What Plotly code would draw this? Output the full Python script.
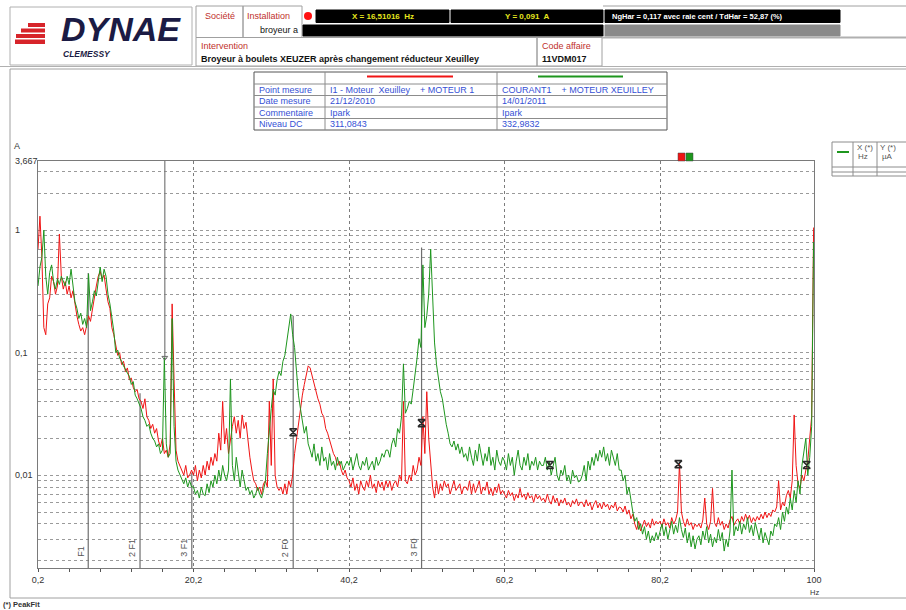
import numpy as np
import plotly.graph_objects as go

# ---------------------------------------------------------------- data
FREQ_START_HZ = 0.2
FREQ_STEP_HZ = 0.25

# Spectrum amplitude, mA, one value per 0.25 Hz bin (0.2 Hz .. 99.95 Hz)
red_mA = [
    700, 1300, 600, 160, 140, 250, 280, 420, 380, 300, 350, 930, 420, 330, 380, 300, 350, 280, 320, 240,
    200, 170, 150, 160, 140, 165, 200, 180, 230, 280, 350, 420, 460, 400, 430, 330, 260, 230, 160, 140,
    110, 95, 100, 80, 85, 70, 75, 60, 62, 52, 48, 50, 42, 40, 35, 42, 30, 28, 24, 26,
    22, 24, 19, 17, 20, 15, 16, 14, 18, 250, 60, 16, 13, 12, 11, 10, 12, 9.5, 10, 11,
    10, 12, 9, 11, 9.5, 12, 10, 13, 11, 14, 12, 15, 13, 22, 16, 40, 18, 24, 15, 20,
    25, 30, 22, 28, 20, 31, 24, 27, 18, 14, 11, 9, 8.5, 7.5, 8, 7, 8.5, 9, 8, 40,
    12, 61, 10, 8, 7.5, 8, 7, 8.5, 7, 9, 8, 10, 15, 20, 28, 35, 45, 55, 68, 78,
    75, 65, 55, 50, 42, 38, 32, 30, 24, 22, 19, 17, 15, 14, 12, 13, 11, 10, 11, 9.5,
    9, 8, 9.5, 7.5, 8.5, 7, 9, 8, 7.5, 9, 8, 10, 7.8, 8.5, 7.2, 9, 8, 8.8, 7.5, 9,
    8, 9, 7.5, 8.5, 9, 8, 10, 9, 40, 9, 8.5, 10, 9, 12, 10, 11, 14, 12, 30, 15,
    48, 20, 12, 8, 6.5, 9, 7, 8.5, 7.5, 9, 8, 8.5, 7, 8, 9, 7.5, 8, 8.5, 7, 8,
    8, 7.5, 9, 7, 8.5, 7.2, 8, 9, 7, 8, 7.5, 8.8, 7, 7.8, 6.8, 8, 7.2, 8.5, 7, 7.5,
    7, 6.5, 7.5, 6.8, 7.2, 6.2, 7, 6.5, 7.8, 6.6, 7, 6.3, 7.2, 6.5, 6.8, 6, 7, 6.4, 6.8, 6.2,
    6.5, 6, 7, 6.2, 5.8, 6.8, 6, 6.5, 5.6, 6.3, 5.9, 6.5, 5.7, 6, 5.5, 6.2, 5.8, 6.4, 5.6, 6,
    6, 5.5, 6.3, 5.6, 6, 5.2, 5.8, 6.2, 5.4, 5.9, 5.3, 6, 5.5, 5.8, 5.2, 5.7, 5.4, 6, 5.1, 5.5,
    5.4, 5, 5.6, 4.8, 5.2, 4.4, 4.8, 4, 3.6, 4.2, 3.5, 3.9, 4.3, 3.8, 4.1, 3.7, 4.4, 3.9, 4.2, 4,
    4.2, 3.8, 4.4, 3.9, 4.1, 3.7, 4.5, 4, 4.3, 5, 12.5, 5, 4.2, 3.8, 4.4, 3.9, 4.1, 3.6, 4, 3.8,
    4, 3.7, 4.3, 6.5, 4, 3.6, 4.2, 7.8, 4.1, 3.8, 4.5, 3.9, 4.2, 3.6, 4, 3.7, 4.3, 4.6, 3.9, 4.2,
    4.4, 4, 4.6, 4.2, 4.8, 4.3, 4.7, 4.1, 4.5, 4.2, 4.6, 4.3, 4.8, 4.4, 5, 4.5, 4.9, 4.6, 5.2, 5,
    5.5, 9, 5.2, 6, 5.6, 6.8, 7.5, 6.5, 9, 31, 12, 8.5, 7.8, 10, 9, 11, 13, 20, 30, 1050,
]
green_mA = [
    350, 500, 600, 1000, 420, 300, 450, 520, 380, 330, 400, 360, 420, 380, 350, 420, 360, 480, 350, 260,
    230, 190, 210, 170, 190, 160, 440, 220, 260, 320, 290, 400, 500, 380, 480, 420, 300, 250, 200, 150,
    100, 105, 90, 85, 78, 72, 68, 64, 55, 58, 45, 42, 38, 35, 30, 28, 25, 26, 22, 20,
    19, 17, 18, 15, 16, 91, 18, 14, 15, 190, 25, 13, 11, 10, 9, 8.5, 9.5, 8, 9, 8,
    8, 7, 7.5, 6.5, 8, 7, 6.8, 8.5, 7.2, 9, 8, 10, 8.5, 11, 9, 12, 10, 9, 11, 61,
    12, 9, 14, 10, 8, 11, 9, 7.5, 8, 7, 7.5, 6.5, 7, 8, 7, 6.5, 7.5, 9, 15, 25,
    35, 50, 45, 60, 70, 65, 85, 95, 120, 150, 207, 140, 110, 70, 45, 35, 28, 22, 25, 18,
    16, 14, 18, 13, 15, 12, 17, 13, 14, 11, 15, 12, 13, 11, 14, 12, 13, 11, 12, 13,
    12, 14, 11, 13, 15, 12, 11, 13, 12, 14, 11, 12, 13, 11, 14, 12, 13, 15, 14, 16,
    16, 14, 18, 20, 17, 24, 22, 30, 81, 32, 35, 40, 38, 50, 65, 90, 130, 110, 520, 160,
    200, 300, 700, 250, 120, 80, 60, 48, 42, 32, 26, 22, 18, 17, 19, 16, 18, 15, 17, 14,
    15, 13, 17, 14, 12, 16, 13, 18, 14, 12, 15, 13, 17, 12, 14, 11, 16, 13, 12, 14,
    13, 11, 15, 12, 14, 10, 13, 16, 12, 11, 14, 12, 15, 11, 13, 12, 14, 11, 13, 12,
    12, 14, 11, 13, 10, 12, 14, 10, 9, 11, 10, 12, 9, 10, 8.5, 11, 9.5, 10, 8.8, 9,
    10, 12, 9, 13, 11, 14, 12, 15, 13, 16, 14, 17, 13, 15, 12, 16, 14, 12, 15, 11,
    11, 9, 10, 7, 8, 6, 5, 4.2, 4.5, 3.6, 4, 3.3, 3.8, 3, 3.5, 2.8, 3.2, 2.9, 3.4, 3,
    3.5, 4, 3.2, 3.8, 3, 3.6, 4.2, 3.3, 3.9, 3.4, 4.5, 3.6, 3.1, 3.7, 2.8, 3.4, 2.6, 3.2, 2.5, 3,
    3.2, 2.7, 3.5, 3, 3.8, 2.8, 3.3, 2.6, 3.1, 2.8, 3.6, 2.9, 3.4, 2.4, 3, 2.6, 3.5, 11, 3.2, 3.8,
    3.5, 4.2, 3.3, 4, 3.6, 4.5, 3.4, 3.9, 3.2, 4.1, 3.5, 3, 3.7, 2.8, 3.4, 3, 2.7, 3.5, 3.2, 4,
    3.8, 4.5, 3.6, 5, 4.2, 5.5, 4.8, 6.5, 5.2, 7.5, 6, 9, 7, 12, 16, 20, 10, 14, 25, 800,
]

# cursor
cursor_x_hz = 16.51016
cursor_y_A = 0.091

# kinematic frequency markers
harm_names = ["F1", "2 F1", "3 F1", "2 F0", "3 F0"]
harm_freqs = [6.66, 13.32, 19.98, 33.02, 49.53]
harm_tops_A = [0.446, 0.0467, 0.0105, 0.20, 0.72]

# PeakFit points
peak_freqs = [33.02, 49.53, 66.04, 82.55, 99.06]
peak_vals_A = [0.0224, 0.0266, 0.0121, 0.0123, 0.0121]

x_tick_vals = [0.2, 20.2, 40.2, 60.2, 80.2, 100]
x_tick_text = ["0,2", "20,2", "40,2", "60,2", "80,2", "100"]
x_minor_vals = [4.2 + 4 * k for k in range(24)]
y_label_vals = [3.667, 1, 0.1, 0.01]
y_label_text = ["3,667", "1", "0,1", "0,01"]
y_grid_vals = [m * 10.0 ** e for e in range(-3, 1) for m in range(1, 10) if 0.00176 < m * 10.0 ** e < 3.6]

# ---------------------------------------------------------------- page geometry
W, H = 906, 610
PL, PR, PT, PB = 38, 814, 161, 568
Y_RANGE = [-2.758, np.log10(3.667)]
FONT = "Liberation Sans"
RED = "#f01414"
GREEN = "#1e961e"
MARK = "#2a2a2a"


def px(x):
    return (x - PL) / (PR - PL)


def py(y):
    return (PB - y) / (PB - PT)


shapes = []
annotations = []


def rect(x0, y0, x1, y1, fill="rgba(0,0,0,0)", line="#a0a0a0", width=1):
    shapes.append(dict(type="rect", xref="paper", yref="paper",
                       x0=px(x0), x1=px(x1), y0=py(y0), y1=py(y1),
                       fillcolor=fill, line=dict(color=line, width=width), layer="above"))


def hline(x0, x1, y, color="#a0a0a0", width=1):
    shapes.append(dict(type="line", xref="paper", yref="paper",
                       x0=px(x0), x1=px(x1), y0=py(y), y1=py(y),
                       line=dict(color=color, width=width)))


def vline(x, y0, y1, color="#a0a0a0", width=1):
    shapes.append(dict(type="line", xref="paper", yref="paper",
                       x0=px(x), x1=px(x), y0=py(y0), y1=py(y1),
                       line=dict(color=color, width=width)))


def text(x, y, s, size=9, color="#222222", xanchor="left", yanchor="middle", family=FONT, **kw):
    annotations.append(dict(x=px(x), y=py(y), xref="paper", yref="paper", text=s,
                            showarrow=False, xanchor=xanchor, yanchor=yanchor,
                            borderpad=0, font=dict(size=size, color=color, family=family), **kw))


# ---------------------------------------------------------------- header: logo
rect(10, 7, 192, 65, line="#b0b0b0")
for (y0, y1, x0) in [(23, 27, 28), (28.5, 32.5, 21), (34, 38, 16), (39.5, 44, 15)]:
    rect(x0, y0, 45, y1, fill="#d7242a", line="#d7242a", width=0)
text(60, 29, "<b><i>DYNAE</i></b>", size=34, color="#1b1b44")
text(62, 54, "<b><i>CLEMESSY</i></b>", size=8.5, color="#1b1b44")

# ---------------------------------------------------------------- header: identification cells
CELL_RED = "#c0302c"
rect(196, 6, 243, 37.5)
rect(243, 6, 302, 37.5)
text(220, 16, "Société", size=9, color=CELL_RED, xanchor="center")
text(246, 16, "Installation", size=9, color=CELL_RED)
text(299, 30, "broyeur a", size=9, color="#111111", xanchor="right")
shapes.append(dict(type="circle", xref="paper", yref="paper", x0=px(304), x1=px(312),
                   y0=py(12), y1=py(20), fillcolor="#ff1010", line=dict(color="#ff1010", width=0)))
rect(316, 10, 449, 22.5, fill="#000000", line="#000000")
rect(451, 10, 603, 22.5, fill="#000000", line="#000000")
rect(605, 10, 840, 22.5, fill="#000000", line="#000000")
rect(303, 25, 603, 36, fill="#000000", line="#000000")
rect(605, 25, 840, 36, fill="#8a8a8a", line="#8a8a8a")
text(383, 16.5, "<b>X = 16,51016  Hz</b>", size=8, color="#e6e61e", xanchor="center")
text(527, 16.5, "<b>Y = 0,091  A</b>", size=8, color="#e6e61e", xanchor="center")
text(611, 16.5, "<b>NgHar = 0,117 avec raie cent / TdHar = 52,87 (%)</b>", size=7.5, color="#ffffff")
hline(603, 906, 6)
rect(196, 37.5, 537, 66)
rect(537, 37.5, 602, 66)
text(200, 46, "Intervention", size=9, color=CELL_RED)
text(200, 59, "<b>Broyeur à boulets XEUZER après changement réducteur Xeuilley</b>", size=9, color="#111111")
text(541, 46, "Code affaire", size=9, color=CELL_RED)
text(541, 59, "<b>11VDM017</b>", size=9, color="#111111")
hline(602, 906, 37.5, color="#b0b0b0", width=2)

# page frame
hline(0, 906, 66.5, color="#b0b0b0", width=1)
hline(10, 906, 69, color="#a0a0a0", width=1)
vline(10, 69, 598, color="#a0a0a0")
hline(10, 906, 598, color="#a0a0a0")
text(2, 604, "<b>(*) PeakFit</b>", size=7.5, color="#333333")

# ---------------------------------------------------------------- measurement table
TBL_BLUE = "#3550d5"
row_y = [72, 84, 95.5, 107, 118.5, 130]
col_x = [254, 325, 497, 667]
rect(col_x[0], row_y[0], col_x[-1], row_y[-1], line="#555555")
for yy in row_y[1:-1]:
    hline(col_x[0], col_x[-1], yy, color="#8c8c8c")
for xx in col_x[1:-1]:
    vline(xx, row_y[0], row_y[-1], color="#8c8c8c")
hline(367, 453, 76.5, color=RED, width=2)
hline(538, 623, 76.5, color=GREEN, width=2)
table_rows = [
    ("Point mesure", "I1 - Moteur  Xeuilley    + MOTEUR 1", "COURANT1    + MOTEUR XEUILLEY"),
    ("Date mesure", "21/12/2010", "14/01/2011"),
    ("Commentaire", "Ipark", "Ipark"),
    ("Niveau DC", "311,0843", "332,9832"),
]
for k, row in enumerate(table_rows):
    yc = (row_y[k + 1] + row_y[k + 2]) / 2
    for j, s in enumerate(row):
        text(col_x[j] + 4, yc, s, size=9, color=TBL_BLUE)

# ---------------------------------------------------------------- legend box (right)
rect(832, 142, 910, 176, line="#8c8c8c")
vline(853, 142, 176, color="#8c8c8c")
vline(877, 142, 176, color="#8c8c8c")
hline(832, 910, 167, color="#8c8c8c")
hline(832, 910, 172, color="#8c8c8c")
hline(837, 849, 152, color=GREEN, width=2)
text(856, 148, "X (*)", size=8, color="#555555")
text(879, 148, "Y (*)", size=8, color="#555555")
text(857, 157, "Hz", size=8, color="#555555")
text(881, 157, "µA", size=8, color="#555555")

# series tags above the plot
rect(678, 153, 685, 161, fill=RED, line="#444444", width=0.5)
rect(686, 153, 693, 161, fill=GREEN, line="#444444", width=0.5)

# ---------------------------------------------------------------- plot
freqs = FREQ_START_HZ + FREQ_STEP_HZ * np.arange(len(red_mA))
red_A = np.array(red_mA) / 1000.0
green_A = np.array(green_mA) / 1000.0
y_bottom = 10 ** Y_RANGE[0]

fig = go.Figure()

# harmonic marker lines
for f, top in zip(harm_freqs, harm_tops_A):
    fig.add_trace(go.Scatter(x=[f, f], y=[y_bottom, top], mode="lines",
                             line=dict(color="#6e6e6e", width=1.2), hoverinfo="skip"))

fig.add_trace(go.Scatter(x=freqs, y=red_A, mode="lines", name="I1 - Moteur Xeuilley",
                         line=dict(color=RED, width=1)))
fig.add_trace(go.Scatter(x=freqs, y=green_A, mode="lines", name="COURANT1",
                         line=dict(color=GREEN, width=1)))

# cursor
fig.add_trace(go.Scatter(x=[cursor_x_hz, cursor_x_hz], y=[3.667, cursor_y_A], mode="lines",
                         line=dict(color="#7a7a7a", width=1.2), hoverinfo="skip"))
fig.add_trace(go.Scatter(x=[cursor_x_hz], y=[cursor_y_A], mode="markers",
                         marker=dict(symbol="triangle-down-open", size=5, color="#6a6a6a",
                                     line=dict(color="#6a6a6a", width=1)), hoverinfo="skip"))

# PeakFit markers
fig.add_trace(go.Scatter(x=peak_freqs, y=peak_vals_A, mode="markers",
                         marker=dict(symbol="hourglass-open", size=7, color=MARK,
                                     line=dict(color=MARK, width=1.6))))

# harmonic labels
for name, f in zip(harm_names, harm_freqs):
    annotations.append(dict(x=f, y=py(559), xref="x", yref="paper", text=name, textangle=-90,
                            showarrow=False, xanchor="right", yanchor="bottom", xshift=-1,
                            font=dict(size=9, color="#555555", family=FONT)))

# y labels, left-aligned at the page edge
for v, s in zip(y_label_vals, y_label_text):
    annotations.append(dict(x=px(13), y=np.log10(v), xref="paper", yref="y", text=s,
                            showarrow=False, xanchor="left", yanchor="middle",
                            font=dict(size=9, color="#333333", family=FONT)))
text(13, 146, "A", size=9, color="#333333")
text(814, 592, "Hz", size=7.5, color="#333333", xanchor="center")

fig.update_layout(
    width=W, height=H, autosize=False,
    margin=dict(l=PL, r=W - PR, t=PT, b=H - PB, pad=0),
    paper_bgcolor="white", plot_bgcolor="white",
    showlegend=False,
    shapes=shapes, annotations=annotations,
    font=dict(family=FONT, size=9, color="#333333"),
    xaxis=dict(
        range=[0.2, 100], automargin=False, zeroline=False,
        tickmode="array", tickvals=x_tick_vals, ticktext=x_tick_text,
        ticks="outside", ticklen=3, tickcolor="#555555",
        tickfont=dict(size=9, color="#333333", family=FONT), ticklabelstandoff=0,
        showgrid=True, gridcolor="#7c7c7c", griddash="dot", gridwidth=1,
        showline=True, linecolor="#7a7a7a", linewidth=1, mirror=True,
        minor=dict(tickmode="array", tickvals=x_minor_vals, ticks="outside",
                   ticklen=3, tickcolor="#555555", showgrid=False),
    ),
    yaxis=dict(
        type="log", range=Y_RANGE, automargin=False, zeroline=False,
        tickmode="array", tickvals=y_grid_vals, showticklabels=False, ticks="",
        showgrid=True, gridcolor="#9a9a9a", griddash="dot", gridwidth=1,
        showline=True, linecolor="#7a7a7a", linewidth=1, mirror=True,
    ),
)

fig.write_html("out.html")
